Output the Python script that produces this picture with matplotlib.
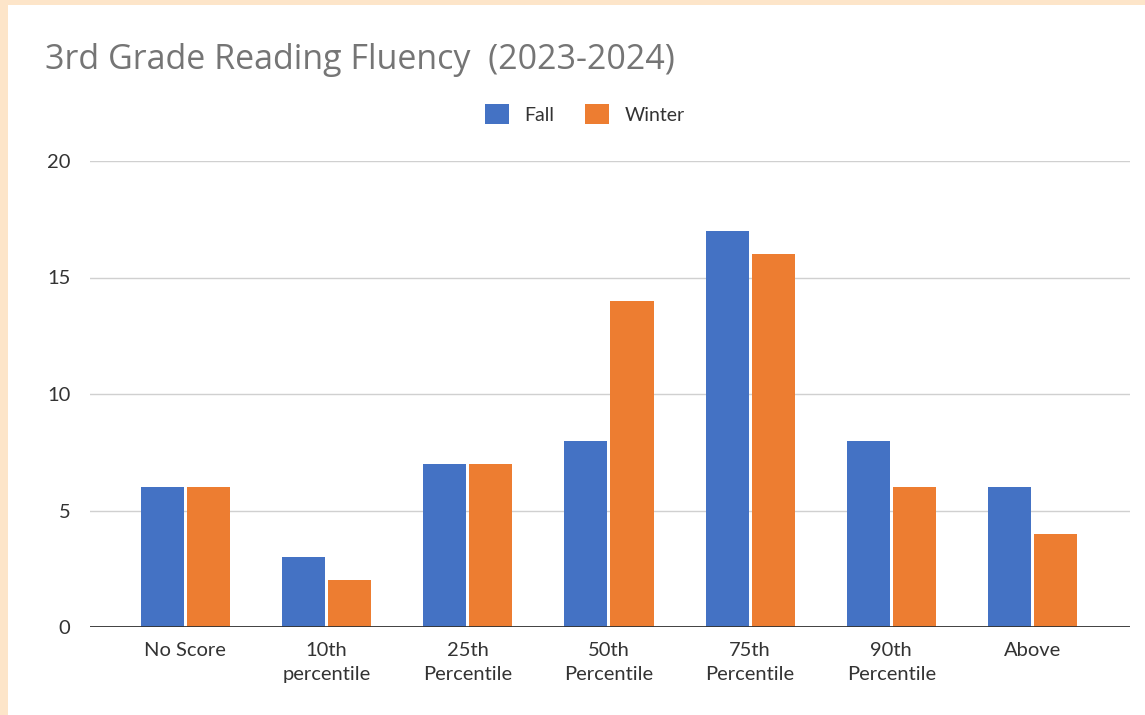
import numpy as np
import matplotlib.pyplot as plt
from matplotlib.patches import Rectangle

categories = ["No Score", "10th\npercentile", "25th\nPercentile", "50th\nPercentile",
              "75th\nPercentile", "90th\nPercentile", "Above"]
fall = [6, 3, 7, 8, 17, 8, 6]
winter = [6, 2, 7, 14, 16, 6, 4]

plt.rcParams['font.family'] = ['Lato', 'DejaVu Sans']

fig = plt.figure(figsize=(11.45, 7.15), dpi=100, facecolor='#fde5c9')
# white card over the peach background
fig.patches.append(Rectangle((8 / 1145, 0), 1, 1 - 5 / 715, transform=fig.transFigure,
                             facecolor='white', edgecolor='none', zorder=-10))

ax = fig.add_axes([90 / 1145, 1 - 627 / 715, 1040 / 1145, (627 - 161) / 715])
ax.set_facecolor('white')

x = np.arange(len(categories))
w = 0.305
gap = 0.011
ax.bar(x - w / 2 - gap, fall, width=w, color='#4472c4', label='Fall', zorder=3)
ax.bar(x + w / 2 + gap, winter, width=w, color='#ed7d31', label='Winter', zorder=3)

ax.set_xlim(-0.675, 6.69)
ax.set_ylim(0, 20)
ax.set_yticks([0, 5, 10, 15, 20])
ax.grid(axis='y', color='#d0d0d0', linewidth=1, zorder=0)
ax.axhline(0, color='#333333', linewidth=1.3, zorder=4)
for s in ax.spines.values():
    s.set_visible(False)
ax.tick_params(length=0, labelsize=14.5, labelcolor='#333333')
ax.tick_params(axis='y', pad=14)
ax.tick_params(axis='x', pad=11)
ax.set_xticks(x)
ax.set_xticklabels(categories, linespacing=1.45)

fig.text(45 / 1145, 1 - 60 / 715, "3rd Grade Reading Fluency  (2023-2024)",
         fontsize=24.5, color='#757575', va='center', ha='left', family=['Open Sans', 'DejaVu Sans'])

ax.legend(loc='center', bbox_to_anchor=(585 / 1145, 1 - 114 / 715), bbox_transform=fig.transFigure,
          ncol=2, frameon=False, fontsize=14, handlelength=1.2, handleheight=1.2,
          columnspacing=1.6, handletextpad=0.8, labelcolor='#333333')

fig.savefig('out.png', dpi=100, facecolor=fig.get_facecolor())
